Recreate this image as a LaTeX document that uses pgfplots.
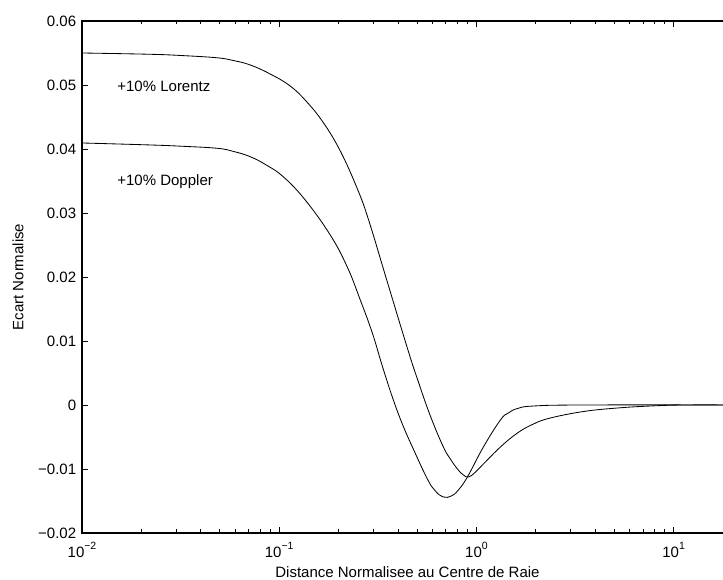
\documentclass[border=0pt]{standalone}
\usepackage{fontspec}
\setmainfont{Liberation Sans}
\usepackage{pgfplots}
\pgfplotsset{compat=1.18}
\newcommand{\ee}[1]{10\raisebox{0.5em}{\fontsize{6.3}{7}\selectfont #1}}

\pgfplotstableread{
x y
0.01 0.04094
0.02214 0.04063
0.03256 0.04042
0.04845 0.04011
0.05841 0.03963
0.07126 0.03880
0.08592 0.03750
0.1048 0.03567
0.1355 0.03203
0.1815 0.02656
0.2214 0.02156
0.2577 0.01641
0.2966 0.01125
0.3333 0.00609
0.3746 0.00125
0.4210 -0.00297
0.4787 -0.00688
0.5641 -0.01156
0.6193 -0.01344
0.6800 -0.01438
0.7462 -0.01422
0.8103 -0.01328
0.9000 -0.01125
1.085 -0.00656
1.324 -0.00234
1.453 -0.00125
1.615 -0.00055
1.947 -0.00016
3.492 0
20 0
}\doppler

\pgfplotstableread{
x y
0.01 0.05500
0.02214 0.05480
0.03256 0.05459
0.04845 0.05425
0.05841 0.05383
0.07126 0.05313
0.09000 0.05172
0.1137 0.04984
0.1382 0.04734
0.1679 0.04406
0.2040 0.03969
0.2480 0.03391
0.2840 0.02891
0.3521 0.01938
0.4448 0.00906
0.5000 0.00422
0.5842 -0.00172
0.6800 -0.00656
0.7379 -0.00844
0.8010 -0.01000
0.8590 -0.01094
0.9109 -0.01125
0.9768 -0.01063
1.085 -0.00922
1.324 -0.00656
1.615 -0.00438
1.947 -0.00297
2.375 -0.00203
3.492 -0.00102
5.196 -0.00047
7.642 -0.00016
11.24 0
20 0
}\lorentz

\begin{document}
\begin{tikzpicture}
\begin{axis}[
  xmode=log, xmin=0.01, xmax=20, ymin=-0.02, ymax=0.06,
  scale only axis, width=390.6pt, height=307.2pt,
  scaled y ticks=false,
  xtick={0.01,0.1,1,10},
  xticklabels={\ee{−2},\ee{−1},\ee{0},\ee{1}},
  ytick={-0.02,-0.01,0,0.01,0.02,0.03,0.04,0.05,0.06},
  yticklabels={−0.02,−0.01,0,0.01,0.02,0.03,0.04,0.05,0.06},
  tick align=inside,
  major tick length=3.6pt, minor tick length=2.1pt,
  every tick/.style={black, line width=0.5pt},
  axis line style={line width=0.7pt},
  tick label style={font=\fontsize{9}{11}\selectfont},
  xticklabel style={yshift=-2.2pt},
  label style={font=\fontsize{9}{11}\selectfont},
  xlabel={Distance Normalisee au Centre de Raie},
  ylabel={Ecart Normalise},
  xlabel style={at={(axis description cs:0.5,-0.0879)}, anchor=base},
  ylabel style={at={(axis description cs:-0.0983,0.5)}, anchor=center},
  clip=true,
]
\addplot[black, line width=0.5pt, smooth, tension=0.7] table[x=x,y=y] {\lorentz};
\addplot[black, line width=0.5pt, smooth, tension=0.7] table[x=x,y=y] {\doppler};
\node[anchor=base west, inner sep=0pt, font=\fontsize{9}{11}\selectfont] at (axis cs:0.01506,0.04895) {+10\% Lorentz};
\node[anchor=base west, inner sep=0pt, font=\fontsize{9}{11}\selectfont] at (axis cs:0.01506,0.03427) {+10\% Doppler};
\end{axis}
\pgfresetboundingbox
\path[use as bounding box] ([xshift=-49.2pt,yshift=-28.2pt]current axis.south west) rectangle ([xshift=384.6pt,yshift=12.6pt]current axis.north west);
\end{tikzpicture}
\end{document}
